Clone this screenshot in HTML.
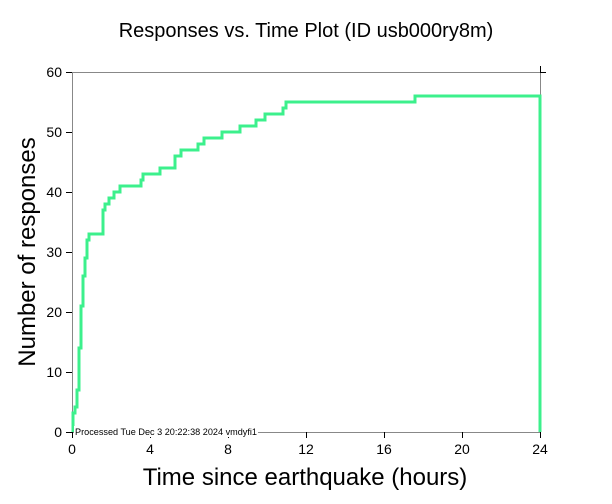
<!DOCTYPE html>
<html><head><meta charset="utf-8"><style>
html,body{margin:0;padding:0;background:#fff;}
svg{display:block;font-family:"Liberation Sans",sans-serif;}
</style></head><body>
<svg width="612" height="504" viewBox="0 0 612 504" xmlns="http://www.w3.org/2000/svg">
<rect width="612" height="504" fill="#fff"/>
<text x="306" y="37" text-anchor="middle" font-size="20">Responses vs. Time Plot (ID usb000ry8m)</text>
<g stroke="#888" stroke-width="1" fill="none">
<line x1="72.5" y1="72" x2="72.5" y2="432"/>
<line x1="72" y1="72.5" x2="540" y2="72.5"/>
<line x1="540.5" y1="72" x2="540.5" y2="432"/>
<line x1="72" y1="432.5" x2="540" y2="432.5"/>
</g>
<g stroke="#000" stroke-width="1">
<line x1="66" y1="432.5" x2="72" y2="432.5"/><line x1="66" y1="372.5" x2="72" y2="372.5"/>
<line x1="66" y1="312.5" x2="72" y2="312.5"/><line x1="66" y1="252.5" x2="72" y2="252.5"/>
<line x1="66" y1="192.5" x2="72" y2="192.5"/><line x1="66" y1="132.5" x2="72" y2="132.5"/>
<line x1="66" y1="72.5" x2="72" y2="72.5"/>
<line x1="72.5" y1="432" x2="72.5" y2="438"/><line x1="150.5" y1="432" x2="150.5" y2="438"/>
<line x1="228.5" y1="432" x2="228.5" y2="438"/><line x1="306.5" y1="432" x2="306.5" y2="438"/>
<line x1="384.5" y1="432" x2="384.5" y2="438"/><line x1="462.5" y1="432" x2="462.5" y2="438"/>
<line x1="540.5" y1="432" x2="540.5" y2="438"/>
<line x1="540.5" y1="66" x2="540.5" y2="72"/><line x1="540" y1="72.5" x2="546" y2="72.5"/>
</g>
<g font-size="14" text-anchor="end">
<text x="62" y="437">0</text><text x="62" y="377">10</text><text x="62" y="317">20</text>
<text x="62" y="257">30</text><text x="62" y="197">40</text><text x="62" y="137">50</text><text x="62" y="77">60</text>
</g>
<g font-size="14" text-anchor="middle">
<text x="72" y="454">0</text><text x="150" y="454">4</text><text x="228" y="454">8</text>
<text x="306" y="454">12</text><text x="384" y="454">16</text><text x="462" y="454">20</text><text x="540" y="454">24</text>
</g>
<text x="305" y="485" text-anchor="middle" font-size="24">Time since earthquake (hours)</text>
<text transform="translate(35,252) rotate(-90)" text-anchor="middle" font-size="24">Number of responses</text>
<path d="M73,432 V413 H75 V407 H77 V390 H79 V348 H81 V306 H83 V276 H85 V258 H87 V240 H89 V234 H103 V210 H105 V204 H109 V198 H114 V192 H120 V186 H141 V180 H143 V174 H160 V168 H175 V156 H181 V150 H198 V144 H204 V138 H222 V132 H240 V126 H256 V120 H265 V114 H283 V108 H286 V102 H415 V96 H540 V432" fill="none" stroke="#3cf08c" stroke-width="3"/>
<rect x="74" y="426" width="184" height="11" fill="#fff"/>
<text x="75" y="435" font-size="9.5" textLength="182" lengthAdjust="spacingAndGlyphs">Processed Tue Dec  3 20:22:38 2024 vmdyfi1</text>
</svg>
</body></html>
